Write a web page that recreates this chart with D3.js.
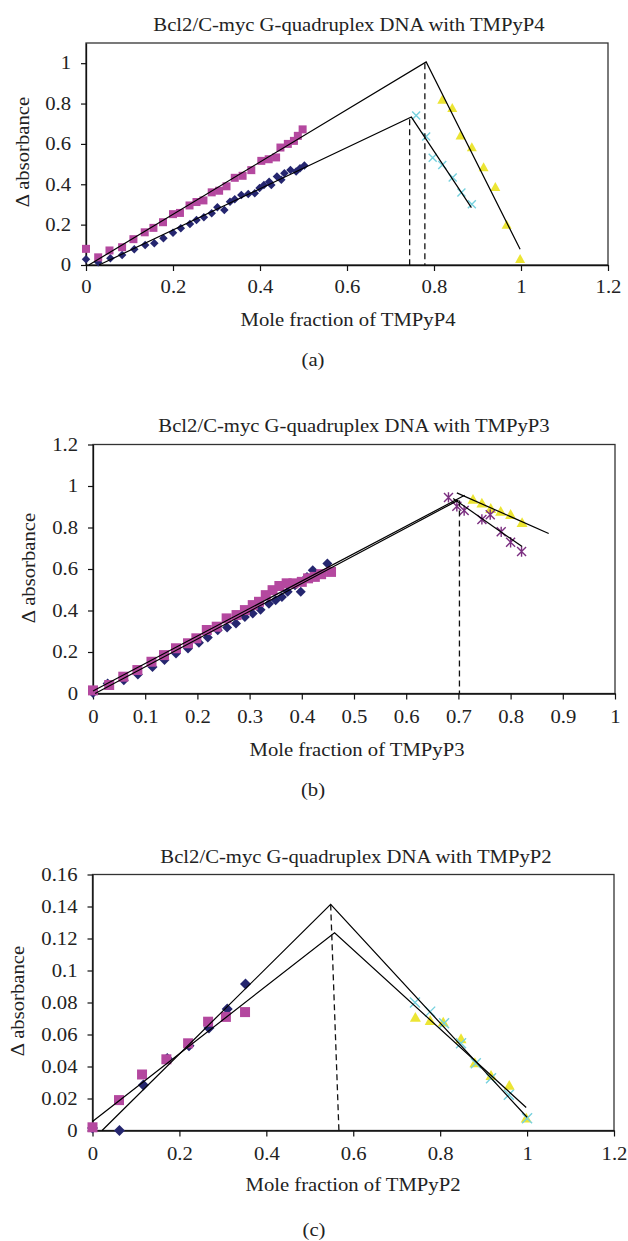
<!DOCTYPE html>
<html>
<head>
<meta charset="utf-8">
<script src="https://cdn.jsdelivr.net/npm/d3@7"></script>
<style>
  body { margin: 0; background: #fff; }
  text { font-family: "Liberation Serif", "Times New Roman", serif; fill: #222; }
</style>
</head>
<body>
<div id="chart"></div>
<script>
"use strict";

// ---- panel (a): TMPyP4 ----
const aSquares = [[0,0.08],[0.028,0.038],[0.054,0.072],[0.083,0.088],[0.109,0.128],[0.135,0.162],[0.155,0.184],
  [0.177,0.212],[0.2,0.252],[0.216,0.258],[0.238,0.295],[0.254,0.312],[0.27,0.32],[0.289,0.36],[0.306,0.368],
  [0.323,0.39],[0.342,0.432],[0.36,0.442],[0.38,0.47],[0.403,0.516],[0.42,0.524],[0.437,0.533],[0.447,0.582],
  [0.464,0.6],[0.478,0.615],[0.487,0.64],[0.498,0.672]];
const aDiamonds = [[0,0.028],[0.028,0.014],[0.056,0.033],[0.083,0.05],[0.111,0.078],[0.136,0.099],[0.157,0.108],
  [0.178,0.132],[0.2,0.16],[0.218,0.182],[0.239,0.203],[0.254,0.223],[0.271,0.237],[0.289,0.257],[0.302,0.286],
  [0.318,0.273],[0.331,0.314],[0.342,0.326],[0.357,0.347],[0.373,0.352],[0.388,0.356],[0.399,0.381],[0.409,0.397],
  [0.421,0.413],[0.426,0.397],[0.439,0.438],[0.449,0.422],[0.456,0.455],[0.47,0.471],[0.483,0.463],[0.492,0.48],
  [0.502,0.493]];
const aTriangles = [[0.819,0.814],[0.842,0.773],[0.861,0.637],[0.887,0.579],[0.914,0.48],[0.941,0.381],[0.967,0.194],[0.998,0.025]];
const aCrosses = [[0.759,0.741],[0.782,0.637],[0.797,0.532],[0.819,0.496],[0.843,0.433],[0.863,0.359],[0.887,0.301]];
const aFits = [[[0.0065,0],[0.782,1.006],[0.998,0.078]], [[0.03,0],[0.748,0.733],[0.886,0.284]]];
const aDashed = [[[0.744,0.722],[0.744,0]], [[0.779,1.0],[0.779,0]]];
const aXTicks = [0,0.2,0.4,0.6,0.8,1,1.2];
const aYTicks = [0,0.2,0.4,0.6,0.8,1];

// ---- panel (b): TMPyP3 ----
const bSquares = [[0,0.015],[0.031,0.041],[0.058,0.081],[0.085,0.113],[0.112,0.153],[0.136,0.185],[0.159,0.218],
  [0.182,0.242],[0.198,0.266],[0.218,0.306],[0.237,0.322],[0.256,0.362],[0.275,0.378],[0.291,0.402],[0.306,0.426],
  [0.318,0.442],[0.331,0.474],[0.344,0.498],[0.357,0.518],[0.371,0.531],[0.384,0.531],[0.4,0.538],[0.412,0.555],
  [0.425,0.562],[0.437,0.575],[0.456,0.586]];
const bDiamonds = [[0,0.003],[0.028,0.048],[0.059,0.064],[0.086,0.091],[0.114,0.128],[0.137,0.161],[0.159,0.193],
  [0.182,0.217],[0.203,0.244],[0.22,0.27],[0.239,0.305],[0.257,0.318],[0.274,0.337],[0.291,0.369],[0.306,0.385],
  [0.321,0.404],[0.337,0.433],[0.35,0.449],[0.362,0.465],[0.373,0.49],[0.387,0.522],[0.398,0.49],[0.41,0.562],
  [0.421,0.594],[0.449,0.626]];
const bTriangles = [[0.728,0.93],[0.745,0.912],[0.762,0.886],[0.781,0.872],[0.8,0.857],[0.822,0.818]];
const bStars = [[0.681,0.945],[0.697,0.902],[0.711,0.882],[0.745,0.839],[0.761,0.862],[0.782,0.779],[0.8,0.729],[0.821,0.684]];
const bFits = [[[0,0.012],[0.712,0.955]], [[0.004,0],[0.70,0.932]], [[0.697,0.967],[0.873,0.771]], [[0.69,0.94],[0.822,0.708]]];
const bDashed = [[[0.702,0.93],[0.702,0]]];
const bXTicks = [0,0.1,0.2,0.3,0.4,0.5,0.6,0.7,0.8,0.9,1];
const bYTicks = [0,0.2,0.4,0.6,0.8,1,1.2];

// ---- panel (c): TMPyP2 ----
const cSquares = [[0,0.002],[0.061,0.019],[0.114,0.035],[0.17,0.0445],[0.22,0.0545],[0.266,0.068],[0.307,0.071],[0.351,0.074]];
const cDiamonds = [[0,0.0015],[0.062,0.0],[0.117,0.0285],[0.172,0.045],[0.222,0.053],[0.268,0.064],[0.31,0.076],[0.352,0.0916]];
const cTriangles = [[0.743,0.07],[0.777,0.068],[0.807,0.067],[0.848,0.0566],[0.88,0.0416],[0.917,0.0337],[0.959,0.0275],[0.998,0.007]];
const cCrosses = [[0.742,0.08],[0.777,0.0743],[0.809,0.067],[0.848,0.0545],[0.882,0.042],[0.917,0.0327],[0.958,0.0223],[1.0,0.0077]];
const cFits = [[[0.022,0],[0.548,0.1413],[1.0,0.0083]], [[0,0.0056],[0.557,0.1236],[0.998,0.0144]]];
const cDashed = [[[0.548,0.1413],[0.567,0]]];
const cXTicks = [0,0.2,0.4,0.6,0.8,1,1.2];
const cYTicks = [0,0.02,0.04,0.06,0.08,0.1,0.12,0.14,0.16];

const W = 628, H = 1241;
const SX = 1.15;      // the original font is wider than Times
const FS = 18;

const colors = {
    square: "#b4489f",
    diamond: "#25266f",
    triangle: "#ece534",
    cross: "#76d1de",
    star: "#7b2e80"
};

// marker paths
const shapes = {
    square: s => `M${-s/2},${-s/2}h${s}v${s}h${-s}Z`,
    diamond: s => `M0,${-s/2}L${s/2},0L0,${s/2}L${-s/2},0Z`,
    triangle: s => { const h = s * 0.9; return `M0,${-h*2/3}L${s/2},${h/3}L${-s/2},${h/3}Z`; },
    cross: s => { const a = s/2; return `M${-a},${-a}L${a},${a}M${-a},${a}L${a},${-a}`; },
    star: s => { const a = s/2; return `M${-a},${-a}L${a},${a}M${-a},${a}L${a},${-a}M0,${-a*1.15}L0,${a*1.15}`; }
};

const panels = [
    { title: "Bcl2/C-myc G-quadruplex DNA with TMPyP4", xLabel: "Mole fraction of TMPyP4", tag: "(a)",
      left: 86, right: 608, top: 43, bottom: 265, xDomain: [0,1.2], yDomain: [0,1.1],
      xTicks: aXTicks, yTicks: aYTicks, titleX: 349, titleY: 31, xLabelX: 348, xLabelY: 326,
      tagX: 313, tagY: 366, yLabelX: 29, yLabelY: 152, xTickY: 28,
      series: [
        { type: "diamond", data: aDiamonds, size: 8.5 },
        { type: "square", data: aSquares, size: 8 },
        { type: "triangle", data: aTriangles, size: 10 },
        { type: "cross", data: aCrosses, size: 8 }
      ], fits: aFits, dashed: aDashed },
    { title: "Bcl2/C-myc G-quadruplex DNA with TMPyP3", xLabel: "Mole fraction of TMPyP3", tag: "(b)",
      left: 93, right: 615, top: 444.5, bottom: 693.5, xDomain: [0,1], yDomain: [0,1.2],
      xTicks: bXTicks, yTicks: bYTicks, titleX: 354, titleY: 432, xLabelX: 357, xLabelY: 756,
      tagX: 313, tagY: 796, yLabelX: 35, yLabelY: 568, xTickY: 30,
      series: [
        { type: "diamond", data: bDiamonds, size: 10 },
        { type: "square", data: bSquares, size: 10 },
        { type: "triangle", data: bTriangles, size: 11 },
        { type: "star", data: bStars, size: 9 }
      ], fits: bFits, dashed: bDashed },
    { title: "Bcl2/C-myc G-quadruplex DNA with TMPyP2", xLabel: "Mole fraction of TMPyP2", tag: "(c)",
      left: 92.5, right: 614, top: 874.5, bottom: 1130.5, xDomain: [0,1.2], yDomain: [0,0.16],
      xTicks: cXTicks, yTicks: cYTicks, titleX: 356, titleY: 863, xLabelX: 353, xLabelY: 1191,
      tagX: 314, tagY: 1236, yLabelX: 24, yLabelY: 1001, xTickY: 30,
      series: [
        { type: "diamond", data: cDiamonds, size: 11 },
        { type: "square", data: cSquares, size: 10 },
        { type: "triangle", data: cTriangles, size: 11 },
        { type: "cross", data: cCrosses, size: 10 }
      ], fits: cFits, dashed: cDashed }
];

const svg = d3.select("#chart").append("svg")
    .attr("width", W)
    .attr("height", H);

// text with the horizontal stretch
function label(g, x, y, str, rotate) {
    g.append("text")
        .attr("transform", `translate(${x},${y})` + (rotate ? " rotate(-90)" : "") + ` scale(${SX},1)`)
        .attr("text-anchor", "middle")
        .style("font-size", FS + "px")
        .text(str);
}

function drawPanel(p) {
    const g = svg.append("g");
    const x = d3.scaleLinear().domain(p.xDomain).range([p.left, p.right]);
    const y = d3.scaleLinear().domain(p.yDomain).range([p.bottom, p.top]);
    const fmt = d3.format("~g");

    // frame
    g.append("rect")
        .attr("x", p.left).attr("y", p.top)
        .attr("width", p.right - p.left).attr("height", p.bottom - p.top)
        .attr("fill", "none").attr("stroke", "#333").attr("stroke-width", 1.3);

    // axes
    const xAxis = g.append("g")
        .attr("transform", `translate(0,${p.bottom})`)
        .call(d3.axisBottom(x).tickValues(p.xTicks).tickFormat(fmt).tickSize(6).tickSizeOuter(0));
    const yAxis = g.append("g")
        .attr("transform", `translate(${p.left},0)`)
        .call(d3.axisLeft(y).tickValues(p.yTicks).tickFormat(fmt).tickSize(5).tickSizeOuter(0));
    [xAxis, yAxis].forEach(ax => {
        ax.select(".domain").attr("stroke", "#111").attr("stroke-width", 1.3);
        ax.selectAll(".tick line").attr("stroke", "#111").attr("stroke-width", 1.2);
        ax.selectAll("text")
            .attr("fill", "#222")
            .style("font-family", '"Liberation Serif", serif')
            .style("font-size", FS + "px");
    });
    xAxis.selectAll("text")
        .attr("y", p.xTickY).attr("dy", null)
        .attr("transform", `scale(${SX},1)`);
    yAxis.selectAll("text")
        .attr("x", -15 / SX)
        .attr("transform", `scale(${SX},1)`);

    // markers
    p.series.forEach(s => {
        const stroked = (s.type === "cross" || s.type === "star");
        g.append("g").selectAll("path")
            .data(s.data)
            .join("path")
            .attr("transform", d => `translate(${x(d[0])},${y(d[1])})`)
            .attr("d", shapes[s.type](s.size))
            .attr("fill", stroked ? "none" : colors[s.type])
            .attr("stroke", stroked ? colors[s.type] : "none")
            .attr("stroke-width", stroked ? 1.4 : 0);
    });

    // fitted lines
    const line = d3.line().x(d => x(d[0])).y(d => y(d[1]));
    g.append("g").selectAll("path")
        .data(p.fits)
        .join("path")
        .attr("d", line)
        .attr("fill", "none")
        .attr("stroke", "#000")
        .attr("stroke-width", 1.2);
    g.append("g").selectAll("path")
        .data(p.dashed)
        .join("path")
        .attr("d", line)
        .attr("fill", "none")
        .attr("stroke", "#111")
        .attr("stroke-width", 1.3)
        .attr("stroke-dasharray", "6,4");

    // texts
    label(g, p.titleX, p.titleY, p.title);
    label(g, p.xLabelX, p.xLabelY, p.xLabel);
    label(g, p.tagX, p.tagY, p.tag);
    label(g, p.yLabelX, p.yLabelY, "\u0394 absorbance", true);
}

panels.forEach(drawPanel);
</script>
</body>
</html>
